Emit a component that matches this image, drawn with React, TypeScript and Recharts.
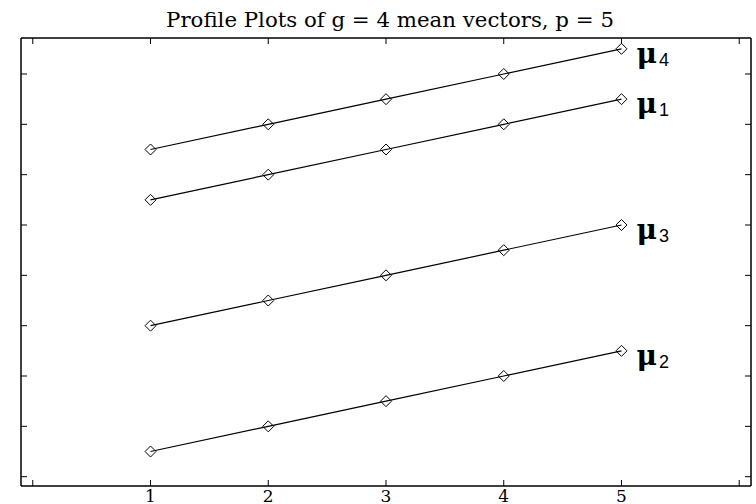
import React from 'react';
import { LineChart, Line, XAxis, YAxis } from 'recharts';

// profile positions (variables 1..p)
const VARIABLES = [1, 2, 3, 4, 5];
// mean vectors
const MU1 = [5.5, 6, 6.5, 7, 7.5];
const MU2 = [0.5, 1, 1.5, 2, 2.5];
const MU3 = [3, 3.5, 4, 4.5, 5];
const MU4 = [6.5, 7, 7.5, 8, 8.5];

const X_TICKS = [0, 1, 2, 3, 4, 5, 6];
const X_LABELED = [1, 2, 3, 4, 5];
const Y_TICKS = [0, 1, 2, 3, 4, 5, 6, 7, 8];

const SERIES = [
  { key: 'mu4', sub: '4' },
  { key: 'mu1', sub: '1' },
  { key: 'mu3', sub: '3' },
  { key: 'mu2', sub: '2' },
];

const data = VARIABLES.map((v, i) => ({
  x: v,
  mu1: MU1[i],
  mu2: MU2[i],
  mu3: MU3[i],
  mu4: MU4[i],
}));

const TICK_LEN = 6;
const AXIS_LINE = { stroke: '#000', strokeWidth: 1.5 };

const BottomTick = (props: any) => {
  const { x, y, payload } = props;
  return (
    <g>
      <line x1={x} y1={y} x2={x} y2={y - TICK_LEN} stroke="#000" />
      {X_LABELED.includes(payload.value) && (
        <text x={x} y={y + 15.5} textAnchor="middle" fontFamily="DejaVu Serif" fontSize={17} fill="#000">
          {payload.value}
        </text>
      )}
    </g>
  );
};

const TopTick = (props: any) => (
  <line x1={props.x} y1={props.y} x2={props.x} y2={props.y + TICK_LEN} stroke="#000" />
);

const LeftTick = (props: any) => (
  <line x1={props.x} y1={props.y} x2={props.x + TICK_LEN} y2={props.y} stroke="#000" />
);

const RightTick = (props: any) => (
  <line x1={props.x} y1={props.y} x2={props.x - TICK_LEN} y2={props.y} stroke="#000" />
);

// hollow diamond marker, plus the series label beside the last point
const makeDot = (sub: string) => (props: any) => {
  const { cx, cy, index } = props;
  const r = 5.5;
  return (
    <g key={`dot-${sub}-${index}`}>
      <path
        d={`M${cx},${cy - r}L${cx + r},${cy}L${cx},${cy + r}L${cx - r},${cy}Z`}
        fill="none"
        stroke="#000"
        strokeWidth={1}
      />
      {index === VARIABLES.length - 1 && (
        <text x={cx + 15} y={cy + 14} fill="#000">
          <tspan fontFamily="DejaVu Serif" fontWeight="bold" fontSize={28}>μ</tspan>
          <tspan fontFamily="Liberation Sans" fontSize={18} dx={2} dy={3}>{sub}</tspan>
        </text>
      )}
    </g>
  );
};

export default function App() {
  return (
    <div style={{ position: 'absolute', left: 0, top: 0, width: 756, height: 504, background: '#fff' }}>
      <div
        style={{
          position: 'absolute',
          left: 0,
          top: 9,
          width: 780,
          textAlign: 'center',
          fontFamily: 'DejaVu Serif',
          fontSize: 21.3,
          lineHeight: '22px',
          color: '#000',
        }}
      >
        Profile Plots of g = 4 mean vectors, p = 5
      </div>
      <LineChart width={756} height={504} data={data} margin={{ top: 36, right: 3, bottom: 0, left: 19 }}>
        <XAxis
          xAxisId="bottom"
          dataKey="x"
          type="number"
          domain={[-0.1, 6.1]}
          ticks={X_TICKS}
          allowDataOverflow
          height={18}
          tickSize={0}
          tickMargin={0}
          tickLine={false}
          axisLine={AXIS_LINE}
          tick={<BottomTick />}
          interval={0}
        />
        <XAxis
          xAxisId="top"
          orientation="top"
          dataKey="x"
          type="number"
          domain={[-0.1, 6.1]}
          ticks={X_TICKS}
          allowDataOverflow
          height={2}
          tickSize={0}
          tickMargin={0}
          tickLine={false}
          axisLine={AXIS_LINE}
          tick={<TopTick />}
          interval={0}
        />
        <YAxis
          yAxisId="left"
          type="number"
          domain={[-0.185, 8.715]}
          ticks={Y_TICKS}
          allowDataOverflow
          width={2}
          tickSize={0}
          tickMargin={0}
          tickLine={false}
          axisLine={AXIS_LINE}
          tick={<LeftTick />}
          interval={0}
        />
        <YAxis
          yAxisId="right"
          orientation="right"
          type="number"
          domain={[-0.185, 8.715]}
          ticks={Y_TICKS}
          allowDataOverflow
          width={2}
          tickSize={0}
          tickMargin={0}
          tickLine={false}
          axisLine={AXIS_LINE}
          tick={<RightTick />}
          interval={0}
        />
        {SERIES.map((s) => (
          <Line
            key={s.key}
            xAxisId="bottom"
            yAxisId="left"
            type="linear"
            dataKey={s.key}
            stroke="#000"
            strokeWidth={1.2}
            dot={makeDot(s.sub)}
            activeDot={false}
            isAnimationActive={false}
          />
        ))}
      </LineChart>
    </div>
  );
}
